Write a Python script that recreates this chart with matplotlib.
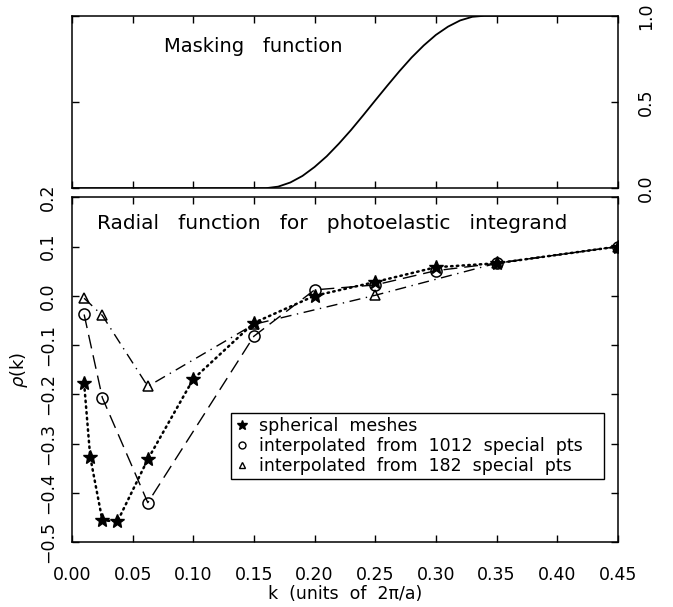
import matplotlib
matplotlib.use('Agg')
import matplotlib.pyplot as plt
import numpy as np

plt.rcParams['font.family'] = 'DejaVu Sans'
plt.rcParams['axes.linewidth'] = 1.1

# masking function (top panel)
k_mask = [0.00, 0.16, 0.17, 0.18, 0.19, 0.20, 0.21, 0.22, 0.23, 0.24, 0.25,
          0.26, 0.27, 0.28, 0.29, 0.30, 0.31, 0.32, 0.33, 0.34, 0.45]
f_mask = [0.0, 0.0, 0.009, 0.033, 0.071, 0.123, 0.185, 0.258, 0.337, 0.422, 0.509,
          0.595, 0.679, 0.758, 0.828, 0.889, 0.937, 0.973, 0.994, 1.0, 1.0]

# radial function, three k-point schemes
k_sph = [0.01, 0.015, 0.025, 0.0375, 0.0625, 0.10, 0.15, 0.20, 0.25, 0.30, 0.35, 0.45]
rho_sph = [-0.178, -0.327, -0.456, -0.458, -0.332, -0.169, -0.055, 0.0, 0.028, 0.058, 0.066, 0.100]

k_1012 = [0.01, 0.025, 0.0625, 0.15, 0.20, 0.25, 0.30, 0.35, 0.45]
rho_1012 = [-0.038, -0.207, -0.42, -0.082, 0.012, 0.022, 0.051, 0.066, 0.100]

k_182 = [0.01, 0.025, 0.0625, 0.15, 0.25, 0.35, 0.45]
rho_182 = [-0.005, -0.040, -0.184, -0.058, 0.001, 0.066, 0.100]

x_ticks = [0.0, 0.05, 0.10, 0.15, 0.20, 0.25, 0.30, 0.35, 0.40, 0.45]

fig = plt.figure(figsize=(6.73, 6.07), dpi=100)
ax_top = fig.add_axes([0.107, 0.690, 0.811, 0.284])
ax = fig.add_axes([0.107, 0.107, 0.811, 0.568])

# top panel
ax_top.plot(k_mask, f_mask, color='black', lw=1.3)
ax_top.set_xlim(0, 0.45)
ax_top.set_ylim(0, 1.0)
ax_top.set_xticks(x_ticks)
ax_top.set_yticks([0.0, 0.5, 1.0])
ax_top.set_yticklabels(['0.0', '0.5', '1.0'])
ax_top.tick_params(direction='in', length=5, width=1.0, top=True, right=True,
                   labelbottom=False, labelleft=False, labelright=True,
                   labelsize=12.5, pad=14)
for lab in ax_top.get_yticklabels():
    lab.set_rotation(90)
    lab.set_va('center')
ax_top.text(0.168, 0.82, 'Masking   function', transform=ax_top.transAxes,
            fontsize=14, ha='left', va='center')

# bottom panel
ax.plot(k_sph, rho_sph, color='black', lw=1.8, ls=(0, (0.6, 1.7)),
        dash_capstyle='round')
ax.plot(k_1012, rho_1012, color='black', lw=1.0, ls=(0, (10, 5)))
ax.plot(k_182, rho_182, color='black', lw=1.0, ls=(0, (8, 4, 1, 4)))

ax.plot(k_sph, rho_sph, ls='none', marker='*', ms=10, color='black')
ax.plot(k_1012, rho_1012, ls='none', marker='o', ms=8, mfc='none',
        mec='black', mew=1.1)
ax.plot(k_182, rho_182, ls='none', marker='^', ms=7.5, mfc='none',
        mec='black', mew=1.1)

# legend entries: markers only
h1, = ax.plot([], [], ls='none', marker='*', ms=7, color='black')
h2, = ax.plot([], [], ls='none', marker='o', ms=5, mfc='none', mec='black', mew=1.0)
h3, = ax.plot([], [], ls='none', marker='^', ms=5, mfc='none', mec='black', mew=1.0)
leg = ax.legend([h1, h2, h3],
                ['spherical  meshes',
                 'interpolated  from  1012  special  pts',
                 'interpolated  from  182  special  pts'],
                loc='upper left', bbox_to_anchor=(0.291, 0.183, 0.683, 0.191),
                mode='expand',
                fontsize=12.5, frameon=True, fancybox=False, framealpha=1,
                edgecolor='black', borderpad=0.25, labelspacing=0.1,
                handlelength=0.8, handletextpad=0.6, borderaxespad=0)
leg.get_frame().set_linewidth(1.0)

ax.set_xlim(0, 0.45)
ax.set_ylim(-0.5, 0.2)
ax.set_xticks(x_ticks)
ax.set_xticklabels(['%.2f' % v for v in x_ticks])
ax.set_yticks([-0.5, -0.4, -0.3, -0.2, -0.1, 0.0, 0.1, 0.2])
ax.set_yticklabels(['\u22120.5', '\u22120.4', '\u22120.3', '\u22120.2', '\u22120.1',
                    '0.0', '0.1', '0.2'])
ax.tick_params(direction='in', length=5, width=1.0, top=True, right=True,
               labelsize=12.5, pad=11)
ax.tick_params(axis='x', pad=17)
for lab in ax.get_yticklabels():
    lab.set_rotation(90)
    lab.set_va('center')

ax.text(0.045, 0.925, 'Radial   function   for   photoelastic   integrand',
        transform=ax.transAxes, fontsize=14.5, ha='left', va='center')

ax.set_xlabel('k  (units  of  2\u03c0/a)', fontsize=12.5, labelpad=1)
ax.set_ylabel(r'$\rho$(k)', fontsize=13, labelpad=6)

fig.savefig('out.png', dpi=100)
